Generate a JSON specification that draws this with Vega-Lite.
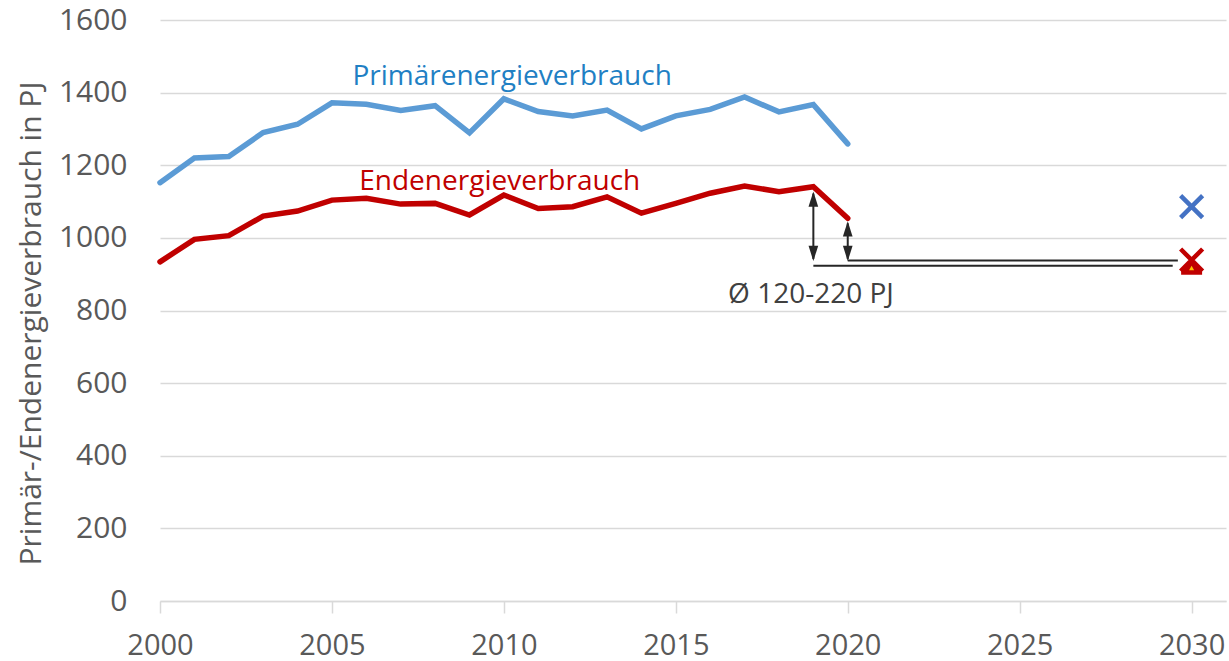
{
  "$schema": "https://vega.github.io/schema/vega-lite/v6.json",
  "width": 1066,
  "height": 581,
  "autosize": {"type": "none"},
  "padding": {"left": 160, "top": 20, "right": 3, "bottom": 60},
  "config": {
    "view": {"stroke": null},
    "font": "Open Sans",
    "axis": {"labelFont": "Open Sans", "titleFont": "Open Sans"}
  },
  "datasets": {
    "series": [
      {"year": 2000, "value": 1152, "series": "Primärenergieverbrauch"},
      {"year": 2001, "value": 1220, "series": "Primärenergieverbrauch"},
      {"year": 2002, "value": 1224, "series": "Primärenergieverbrauch"},
      {"year": 2003, "value": 1290, "series": "Primärenergieverbrauch"},
      {"year": 2004, "value": 1313, "series": "Primärenergieverbrauch"},
      {"year": 2005, "value": 1372, "series": "Primärenergieverbrauch"},
      {"year": 2006, "value": 1368, "series": "Primärenergieverbrauch"},
      {"year": 2007, "value": 1351, "series": "Primärenergieverbrauch"},
      {"year": 2008, "value": 1364, "series": "Primärenergieverbrauch"},
      {"year": 2009, "value": 1289, "series": "Primärenergieverbrauch"},
      {"year": 2010, "value": 1383, "series": "Primärenergieverbrauch"},
      {"year": 2011, "value": 1348, "series": "Primärenergieverbrauch"},
      {"year": 2012, "value": 1336, "series": "Primärenergieverbrauch"},
      {"year": 2013, "value": 1352, "series": "Primärenergieverbrauch"},
      {"year": 2014, "value": 1300, "series": "Primärenergieverbrauch"},
      {"year": 2015, "value": 1336, "series": "Primärenergieverbrauch"},
      {"year": 2016, "value": 1354, "series": "Primärenergieverbrauch"},
      {"year": 2017, "value": 1388, "series": "Primärenergieverbrauch"},
      {"year": 2018, "value": 1347, "series": "Primärenergieverbrauch"},
      {"year": 2019, "value": 1367, "series": "Primärenergieverbrauch"},
      {"year": 2020, "value": 1259, "series": "Primärenergieverbrauch"},
      {"year": 2000, "value": 934, "series": "Endenergieverbrauch"},
      {"year": 2001, "value": 996, "series": "Endenergieverbrauch"},
      {"year": 2002, "value": 1006, "series": "Endenergieverbrauch"},
      {"year": 2003, "value": 1060, "series": "Endenergieverbrauch"},
      {"year": 2004, "value": 1074, "series": "Endenergieverbrauch"},
      {"year": 2005, "value": 1104, "series": "Endenergieverbrauch"},
      {"year": 2006, "value": 1109, "series": "Endenergieverbrauch"},
      {"year": 2007, "value": 1093, "series": "Endenergieverbrauch"},
      {"year": 2008, "value": 1095, "series": "Endenergieverbrauch"},
      {"year": 2009, "value": 1063, "series": "Endenergieverbrauch"},
      {"year": 2010, "value": 1118, "series": "Endenergieverbrauch"},
      {"year": 2011, "value": 1081, "series": "Endenergieverbrauch"},
      {"year": 2012, "value": 1086, "series": "Endenergieverbrauch"},
      {"year": 2013, "value": 1113, "series": "Endenergieverbrauch"},
      {"year": 2014, "value": 1068, "series": "Endenergieverbrauch"},
      {"year": 2015, "value": 1095, "series": "Endenergieverbrauch"},
      {"year": 2016, "value": 1123, "series": "Endenergieverbrauch"},
      {"year": 2017, "value": 1143, "series": "Endenergieverbrauch"},
      {"year": 2018, "value": 1127, "series": "Endenergieverbrauch"},
      {"year": 2019, "value": 1141, "series": "Endenergieverbrauch"},
      {"year": 2020, "value": 1054, "series": "Endenergieverbrauch"}
    ],
    "hlines": [
      {"start": 2019, "end": 2029.45, "value": 923},
      {"start": 2020, "end": 2029.6, "value": 938}
    ],
    "shafts": [
      {"year": 2019, "top": 1122, "bottom": 942},
      {"year": 2020, "top": 1040, "bottom": 942}
    ],
    "heads": [
      {"year": 2019, "value": 1128, "dir": "up"},
      {"year": 2019, "value": 936, "dir": "down"},
      {"year": 2020, "value": 1046, "dir": "up"},
      {"year": 2020, "value": 936, "dir": "down"}
    ],
    "targets": [
      {"year": 2030, "value": 916, "kind": "tri"},
      {"year": 2030, "value": 917, "kind": "inner"},
      {"year": 2030, "value": 1086, "kind": "xblue"},
      {"year": 2030, "value": 939, "kind": "xred"}
    ],
    "labels": [
      {"year": 2010.24, "value": 1421, "text": "Primärenergieverbrauch", "kind": "p"},
      {"year": 2009.88, "value": 1132, "text": "Endenergieverbrauch", "kind": "e"},
      {"year": 2018.93, "value": 820, "text": "Ø 120-220 PJ", "kind": "a"}
    ]
  },
  "layer": [
    {
      "data": {"name": "series"},
      "mark": {"type": "line", "strokeWidth": 5.5, "strokeCap": "round", "strokeJoin": "miter"},
      "encoding": {
        "x": {
          "field": "year", "type": "quantitative",
          "scale": {"domain": [2000, 2031], "nice": false, "zero": false},
          "axis": {
            "values": [2000, 2005, 2010, 2015, 2020, 2025, 2030],
            "format": "d", "title": null, "grid": false,
            "domainColor": "#D9D9D9", "domainWidth": 1.5,
            "tickColor": "#D9D9D9", "tickWidth": 1.5, "tickSize": 12,
            "labelPadding": 18, "labelFontSize": 29, "labelColor": "#595959",
            "labelFlush": false
          }
        },
        "y": {
          "field": "value", "type": "quantitative",
          "scale": {"domain": [0, 1600], "nice": false},
          "axis": {
            "values": [0, 200, 400, 600, 800, 1000, 1200, 1400, 1600],
            "format": "d",
            "title": "Primär-/Endenergieverbrauch in PJ",
            "grid": true, "gridColor": "#D9D9D9", "gridWidth": 1.5,
            "domain": false, "ticks": false, "tickSize": 0,
            "labelPadding": 33, "labelFontSize": 30, "labelColor": "#595959",
            "titleFontSize": 30, "titleFontWeight": "normal", "titleColor": "#595959",
            "titlePadding": 12, "titleY": 303
          }
        },
        "color": {
          "field": "series", "type": "nominal",
          "scale": {"domain": ["Primärenergieverbrauch", "Endenergieverbrauch"], "range": ["#5B9BD5", "#C00000"]},
          "legend": null
        }
      }
    },
    {
      "data": {"name": "hlines"},
      "mark": {"type": "rule", "color": "#262626", "strokeWidth": 2},
      "encoding": {
        "x": {"field": "start", "type": "quantitative"},
        "x2": {"field": "end"},
        "y": {"field": "value", "type": "quantitative"}
      }
    },
    {
      "data": {"name": "shafts"},
      "mark": {"type": "rule", "color": "#262626", "strokeWidth": 2},
      "encoding": {
        "x": {"field": "year", "type": "quantitative"},
        "y": {"field": "top", "type": "quantitative"},
        "y2": {"field": "bottom"}
      }
    },
    {
      "data": {"name": "heads"},
      "mark": {"type": "point", "filled": true, "size": 260, "opacity": 1, "color": "#262626"},
      "encoding": {
        "x": {"field": "year", "type": "quantitative"},
        "y": {"field": "value", "type": "quantitative"},
        "shape": {
          "field": "dir", "type": "nominal",
          "scale": {"domain": ["up", "down"], "range": ["M0,0L-0.6,1.9L0.6,1.9Z", "M0,0L-0.6,-1.9L0.6,-1.9Z"]},
          "legend": null
        }
      }
    },
    {
      "data": {"name": "targets"},
      "transform": [{"filter": "datum.kind == 'xblue' || datum.kind == 'xred'"}],
      "mark": {"type": "point", "filled": false, "opacity": 1, "shape": "M-1,-1L1,1M1,-1L-1,1", "size": 484, "strokeWidth": 4.5},
      "encoding": {
        "x": {"field": "year", "type": "quantitative"},
        "y": {"field": "value", "type": "quantitative"},
        "stroke": {
          "field": "kind", "type": "nominal",
          "scale": {"domain": ["xblue", "xred"], "range": ["#4472C4", "#C00000"]},
          "legend": null
        }
      }
    },
    {
      "data": {"name": "targets"},
      "transform": [{"filter": "datum.kind == 'tri'"}],
      "mark": {"type": "point", "filled": true, "opacity": 1, "color": "#C00000", "shape": "M0,-0.6L1,0.1L1,0.6L-1,0.6L-1,0.1Z", "size": 440},
      "encoding": {
        "x": {"field": "year", "type": "quantitative"},
        "y": {"field": "value", "type": "quantitative"}
      }
    },
    {
      "data": {"name": "targets"},
      "transform": [{"filter": "datum.kind == 'inner'"}],
      "mark": {"type": "point", "filled": true, "opacity": 1, "color": "#FFC000", "shape": "triangle-up", "size": 26},
      "encoding": {
        "x": {"field": "year", "type": "quantitative"},
        "y": {"field": "value", "type": "quantitative"}
      }
    },
    {
      "data": {"name": "labels"},
      "mark": {"type": "text", "fontSize": 28, "align": "center", "baseline": "alphabetic", "font": "Open Sans"},
      "encoding": {
        "x": {"field": "year", "type": "quantitative"},
        "y": {"field": "value", "type": "quantitative"},
        "text": {"field": "text"},
        "color": {
          "field": "kind", "type": "nominal",
          "scale": {"domain": ["p", "e", "a"], "range": ["#1F80C4", "#C00000", "#404040"]},
          "legend": null
        }
      }
    }
  ],
  "resolve": {"scale": {"color": "independent", "shape": "independent", "stroke": "independent"}}
}
